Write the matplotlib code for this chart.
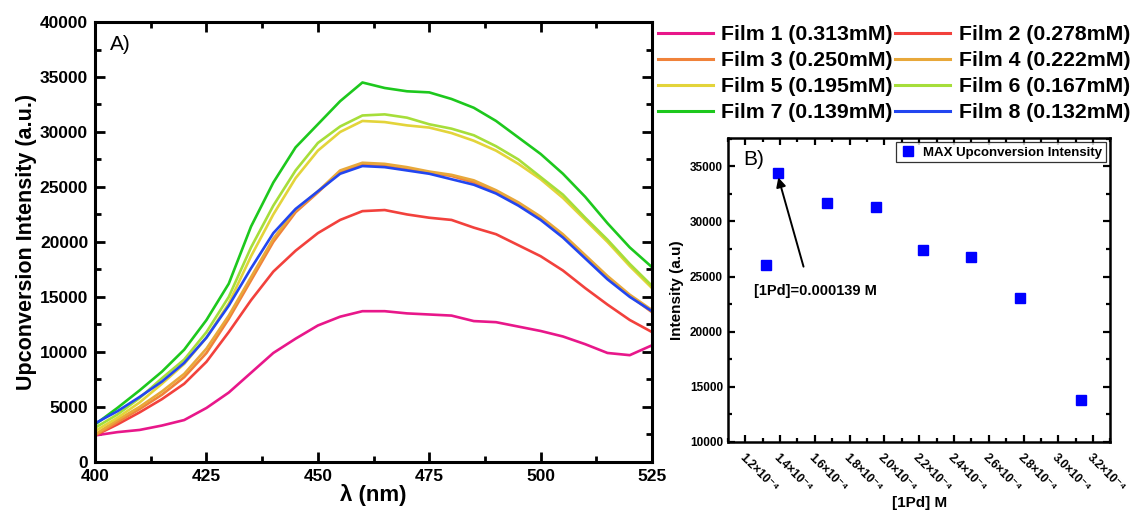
import matplotlib
matplotlib.use("Agg")
import matplotlib.pyplot as plt
from matplotlib.lines import Line2D
from matplotlib.ticker import MultipleLocator, FuncFormatter

plt.rcParams["font.family"] = ["Liberation Sans", "DejaVu Sans"]

# spectra, every 5 nm
wavelength = [400, 405, 410, 415, 420, 425, 430, 435, 440, 445, 450, 455, 460,
              465, 470, 475, 480, 485, 490, 495, 500, 505, 510, 515, 520, 525]

film1 = [2400, 2700, 2900, 3300, 3800, 4900, 6300, 8100, 9900, 11200, 12400, 13200, 13700,
         13700, 13500, 13400, 13300, 12800, 12700, 12300, 11900, 11400, 10700, 9900, 9700, 10600]
film2 = [2400, 3400, 4500, 5700, 7100, 9100, 11800, 14700, 17300, 19200, 20800, 22000, 22800,
         22900, 22500, 22200, 22000, 21300, 20700, 19700, 18700, 17400, 15800, 14300, 12900, 11800]
film3 = [2400, 3600, 4800, 6100, 7700, 9900, 13000, 16500, 20000, 22700, 24500, 26400, 27000,
         26900, 26600, 26300, 26000, 25400, 24500, 23400, 22100, 20500, 18700, 16800, 15100, 13600]
film4 = [2500, 3800, 5000, 6400, 8000, 10300, 13300, 16800, 20300, 22900, 24600, 26500, 27200,
         27100, 26800, 26400, 26100, 25600, 24700, 23600, 22300, 20700, 18800, 16900, 15200, 13800]
film5 = [2800, 4000, 5400, 7100, 8900, 11300, 14400, 18700, 22500, 25800, 28300, 30000, 31000,
         30900, 30600, 30400, 29900, 29200, 28300, 27100, 25700, 24000, 22000, 20000, 17800, 15800]
film6 = [3100, 4300, 5800, 7600, 9300, 11800, 15000, 19500, 23300, 26500, 29000, 30500, 31500,
         31600, 31300, 30700, 30300, 29700, 28700, 27500, 25900, 24300, 22200, 20200, 18000, 16000]
film7 = [3400, 4900, 6500, 8200, 10200, 12900, 16200, 21400, 25400, 28600, 30700, 32800, 34500,
         34000, 33700, 33600, 33000, 32200, 31000, 29500, 28000, 26200, 24100, 21700, 19500, 17700]
film8 = [3500, 4600, 5900, 7300, 9000, 11300, 14200, 17600, 20800, 23000, 24600, 26200, 26900,
         26800, 26500, 26200, 25700, 25200, 24400, 23300, 22000, 20400, 18500, 16600, 15000, 13700]

film_labels = ["Film 1 (0.313mM)", "Film 2 (0.278mM)", "Film 3 (0.250mM)", "Film 4 (0.222mM)",
               "Film 5 (0.195mM)", "Film 6 (0.167mM)", "Film 7 (0.139mM)", "Film 8 (0.132mM)"]
film_colors = ["#E8178A", "#F2413C", "#F0823A", "#E8A83A",
               "#E3D43A", "#A6DE3A", "#1DC81D", "#2246F0"]

# panel B: max intensity vs concentration
conc = [1.32e-4, 1.39e-4, 1.67e-4, 1.95e-4, 2.22e-4, 2.50e-4, 2.78e-4, 3.13e-4]
max_int = [26050, 34430, 31700, 31340, 27430, 26790, 23060, 13820]

films = [film1, film2, film3, film4, film5, film6, film7, film8]

fig = plt.figure(figsize=(11.32, 5.12), dpi=100)

# ---- panel A ----
ax1 = fig.add_axes([0.084, 0.098, 0.492, 0.859])
for y, c in zip(films, film_colors):
    ax1.plot(wavelength, y, color=c, lw=1.9)

ax1.set_xlim(400, 525)
ax1.set_ylim(0, 40000)
ax1.xaxis.set_major_locator(MultipleLocator(25))
ax1.xaxis.set_minor_locator(MultipleLocator(12.5))
ax1.yaxis.set_major_locator(MultipleLocator(5000))
ax1.yaxis.set_minor_locator(MultipleLocator(2500))
ax1.tick_params(which="both", direction="in", top=True, right=True, width=2)
ax1.tick_params(which="major", length=7, labelsize=12.5, pad=5)
ax1.tick_params(which="minor", length=4)
for lab in ax1.get_xticklabels() + ax1.get_yticklabels():
    lab.set_fontweight("bold")
for s in ax1.spines.values():
    s.set_linewidth(2.2)
ax1.set_xlabel("λ (nm)", fontsize=16, fontweight="bold", labelpad=0)
ax1.set_ylabel("Upconversion Intensity (a.u.)", fontsize=15.5, fontweight="bold", labelpad=2)
ax1.text(0.027, 0.948, "A)", transform=ax1.transAxes, fontsize=15, va="center", ha="left")

handles = [Line2D([], [], color=c, lw=2.2) for c in film_colors]
order = [0, 2, 4, 6, 1, 3, 5, 7]
fig.legend([handles[i] for i in order], [film_labels[i] for i in order],
           loc="upper left", bbox_to_anchor=(0.581, 0.951), ncol=2, frameon=False,
           prop={"weight": "bold", "size": 15.3}, handlelength=2.6, handletextpad=0.4,
           columnspacing=0.1, labelspacing=0.33, borderpad=0, borderaxespad=0)

# ---- panel B ----
ax2 = fig.add_axes([0.643, 0.137, 0.338, 0.594])
ax2.plot(conc, max_int, "s", color="#0000FF", ms=7, ls="none",
         label="MAX Upconversion Intensity")
ax2.set_xlim(1.1e-4, 3.3e-4)
ax2.set_ylim(10000, 37600)
ax2.xaxis.set_major_locator(MultipleLocator(0.2e-4))
ax2.xaxis.set_minor_locator(MultipleLocator(0.1e-4))
ax2.yaxis.set_major_locator(MultipleLocator(5000))
ax2.yaxis.set_minor_locator(MultipleLocator(2500))
ax2.xaxis.set_major_formatter(FuncFormatter(lambda v, p: f"{v * 1e4:.1f}×10⁻⁴"))
ax2.tick_params(which="both", direction="in", top=True, right=True, width=1.6)
ax2.tick_params(which="major", length=5, labelsize=8.5)
ax2.tick_params(which="minor", length=3)
ax2.tick_params(axis="x", pad=7)
for lab in ax2.get_xticklabels():
    lab.set_rotation(-45)
    lab.set_ha("left")
    lab.set_va("top")
    lab.set_rotation_mode("anchor")
for lab in ax2.get_xticklabels() + ax2.get_yticklabels():
    lab.set_fontweight("bold")
for s in ax2.spines.values():
    s.set_linewidth(1.8)
ax2.set_xlabel("[1Pd] M", fontsize=11, fontweight="bold", labelpad=1)
ax2.set_ylabel("Intensity (a.u)", fontsize=11, fontweight="bold")
ax2.text(0.04, 0.93, "B)", transform=ax2.transAxes, fontsize=15, va="center", ha="left")

ax2.annotate("", xy=(1.39e-4, 34000), xytext=(1.535e-4, 25900),
             arrowprops=dict(arrowstyle="-|>", color="k", lw=1.4, mutation_scale=14,
                             shrinkA=0, shrinkB=0))
ax2.text(1.605e-4, 23700, "[1Pd]=0.000139 M", fontsize=10.5, fontweight="bold",
         ha="center", va="center")

leg = ax2.legend(loc="upper right", prop={"weight": "bold", "size": 9.5}, fancybox=False,
                 edgecolor="black", handletextpad=0.5, borderaxespad=0.35, borderpad=0.3,
                 handlelength=1.2)
leg.get_frame().set_linewidth(0.9)

fig.savefig("out.png", dpi=100)
